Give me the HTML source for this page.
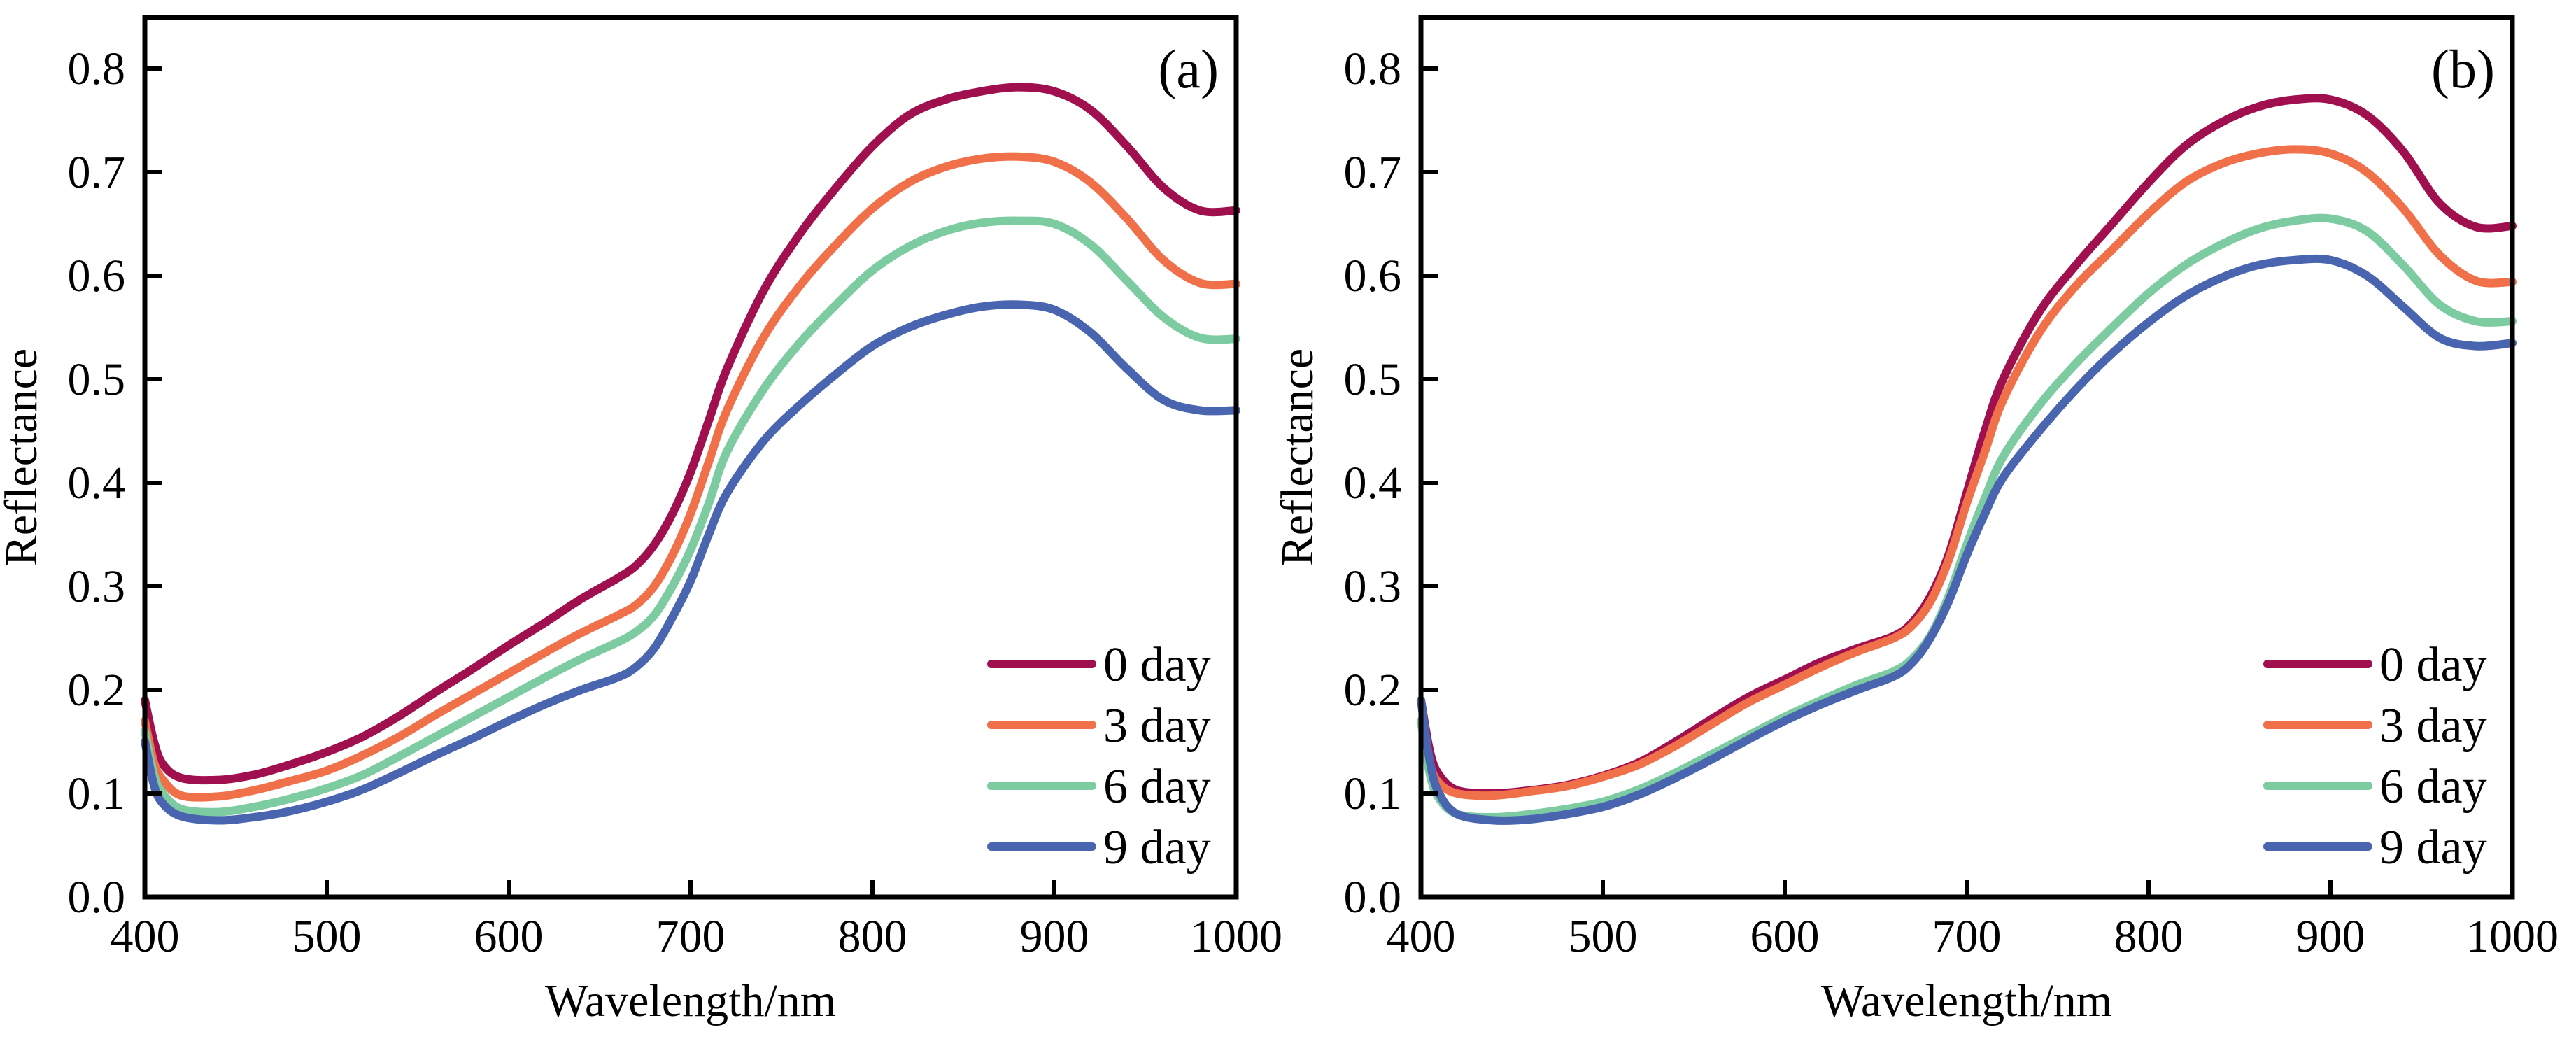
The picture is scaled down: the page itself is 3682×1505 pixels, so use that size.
<!DOCTYPE html>
<html><head><meta charset="utf-8">
<style>
html,body{margin:0;padding:0;background:#fff;}
svg{display:block;font-family:"Liberation Serif",serif;}
</style></head>
<body>
<svg id="chart" width="3682" height="1505" viewBox="0 0 3682 1505" xmlns="http://www.w3.org/2000/svg"></svg>
<script>
const wavelengths = [400,405,410,420,440,460,480,500,520,540,560,580,600,620,640,660,670,680,690,700,710,720,740,760,780,800,820,840,860,880,900,920,940,960,980,1000];
const seriesNames = ["0 day","3 day","6 day","9 day"];
const seriesColors = ["#A0104E","#F0704A","#7DCBA0","#4A65B0"];
const xTicks = [400,500,600,700,800,900,1000];
const yTicks = [0.0,0.1,0.2,0.3,0.4,0.5,0.6,0.7,0.8];
const panelLabels = ["(a)","(b)"];
const a0 = [0.19,0.15,0.128,0.115,0.113,0.118,0.128,0.14,0.155,0.175,0.198,0.22,0.243,0.265,0.288,0.308,0.32,0.34,0.37,0.41,0.46,0.51,0.585,0.64,0.685,0.725,0.755,0.77,0.778,0.782,0.778,0.76,0.725,0.685,0.663,0.663];
const a3 = [0.17,0.13,0.113,0.098,0.097,0.103,0.112,0.122,0.137,0.155,0.176,0.196,0.216,0.236,0.255,0.272,0.282,0.30,0.33,0.37,0.42,0.47,0.54,0.59,0.63,0.665,0.69,0.705,0.713,0.715,0.71,0.69,0.655,0.615,0.593,0.592];
const a6 = [0.16,0.118,0.1,0.085,0.082,0.087,0.095,0.105,0.118,0.136,0.155,0.174,0.193,0.212,0.23,0.246,0.256,0.272,0.30,0.335,0.38,0.43,0.49,0.535,0.572,0.605,0.628,0.643,0.651,0.653,0.65,0.63,0.595,0.56,0.54,0.539];
const a9 = [0.15,0.108,0.09,0.078,0.074,0.077,0.083,0.092,0.104,0.12,0.137,0.153,0.17,0.186,0.2,0.212,0.222,0.24,0.27,0.305,0.35,0.39,0.44,0.475,0.505,0.532,0.55,0.562,0.57,0.572,0.567,0.545,0.51,0.48,0.47,0.47];
const b0 = [0.19,0.14,0.118,0.103,0.1,0.103,0.108,0.117,0.13,0.15,0.172,0.193,0.21,0.227,0.24,0.252,0.265,0.29,0.33,0.39,0.45,0.5,0.565,0.61,0.65,0.69,0.725,0.748,0.763,0.77,0.77,0.755,0.72,0.67,0.647,0.648];
const b3 = [0.17,0.128,0.11,0.1,0.098,0.102,0.107,0.116,0.128,0.146,0.167,0.188,0.205,0.222,0.237,0.25,0.262,0.285,0.325,0.38,0.43,0.48,0.545,0.59,0.625,0.66,0.69,0.708,0.718,0.722,0.718,0.7,0.665,0.62,0.595,0.594];
const b6 = [0.17,0.118,0.095,0.08,0.077,0.08,0.085,0.092,0.104,0.12,0.138,0.156,0.174,0.19,0.205,0.218,0.23,0.252,0.29,0.34,0.385,0.425,0.475,0.515,0.55,0.583,0.61,0.63,0.645,0.653,0.655,0.643,0.61,0.572,0.556,0.556];
const b9 = [0.19,0.13,0.1,0.08,0.074,0.075,0.08,0.087,0.099,0.115,0.133,0.152,0.17,0.186,0.2,0.213,0.226,0.25,0.285,0.33,0.37,0.405,0.45,0.49,0.525,0.555,0.58,0.598,0.61,0.615,0.615,0.6,0.57,0.54,0.532,0.535];

const NS="http://www.w3.org/2000/svg";
const svg=document.getElementById('chart');
function mk(tag,attrs,parent,text){const e=document.createElementNS(NS,tag);for(const k in attrs)e.setAttribute(k,attrs[k]);if(text!==undefined)e.textContent=text;(parent||svg).appendChild(e);return e;}

const panels=[{left:207,series:[a0,a3,a6,a9],id:"a"},{left:2031,series:[b0,b3,b6,b9],id:"b"}];
const W=1560, TOP=25, BOT=1282, Y0=1282, PER=1480;

panels.forEach((p,pi)=>{
  const g=mk('g',{});
  
  
  const xs=v=>p.left+(v-400)/600*W;
  const ys=v=>Y0-v*PER;
  p.series.forEach((vals,si)=>{
    const pts=wavelengths.map((w,i)=>[xs(w),ys(vals[i])]);
    let d='M'+pts[0][0]+','+pts[0][1];
    for(let i=0;i<pts.length-1;i++){
      const p0=pts[Math.max(0,i-1)],p1=pts[i],p2=pts[i+1],p3=pts[Math.min(pts.length-1,i+2)];
      const c1=[p1[0]+(p2[0]-p0[0])/6,p1[1]+(p2[1]-p0[1])/6];
      const c2=[p2[0]-(p3[0]-p1[0])/6,p2[1]-(p3[1]-p1[1])/6];
      d+=' C'+c1[0].toFixed(1)+','+c1[1].toFixed(1)+' '+c2[0].toFixed(1)+','+c2[1].toFixed(1)+' '+p2[0].toFixed(1)+','+p2[1].toFixed(1);
    }
    const path=mk('path',{d:d,fill:'none',stroke:seriesColors[si],'stroke-width':12,'stroke-linejoin':'round','stroke-linecap':'round'},g);
    
    
  });
  const fr=mk('rect',{x:p.left,y:TOP,width:W,height:BOT-TOP,fill:'none',stroke:'#000','stroke-width':7},g);
  
  
  xTicks.forEach(t=>{
    const x=xs(t);
    if(t>400&&t<1000){const tk=mk('line',{x1:x,x2:x,y1:BOT,y2:BOT-24,stroke:'#000','stroke-width':6},g);
      }
    const lb=mk('text',{x:x,y:1360,'font-size':66,'text-anchor':'middle'},g,String(t));
    
    
  });
  yTicks.forEach(t=>{
    const y=ys(t);
    if(t>0){const tk=mk('line',{x1:p.left,x2:p.left+24,y1:y,y2:y,stroke:'#000','stroke-width':6},g);
      }
    const lb=mk('text',{x:p.left-28,y:y+22,'font-size':66,'text-anchor':'end'},g,t.toFixed(1));
    
    
  });
  const xt=mk('text',{x:p.left+W/2,y:1452,'font-size':66,'text-anchor':'middle'},g,'Wavelength/nm');
  
  
  const yt=mk('text',{x:0,y:0,'font-size':66,'text-anchor':'middle',transform:'translate('+(p.left-155)+','+((TOP+BOT)/2)+') rotate(-90)'},g,'Reflectance');
  
  
  const pl=mk('text',{x:p.left+W-25,y:125,'font-size':78,'text-anchor':'end'},g,panelLabels[pi]);
  
  
  seriesNames.forEach((n,si)=>{
    const ly=949+si*87;
    const le=mk('g',{},g);
    
    
    mk('line',{x1:p.left+W-350,x2:p.left+W-206,y1:ly,y2:ly,stroke:seriesColors[si],'stroke-width':12,'stroke-linecap':'round'},le);
    mk('text',{x:p.left+W-190,y:ly+24,'font-size':70},le,n);
  });
});
</script>
</body></html>
